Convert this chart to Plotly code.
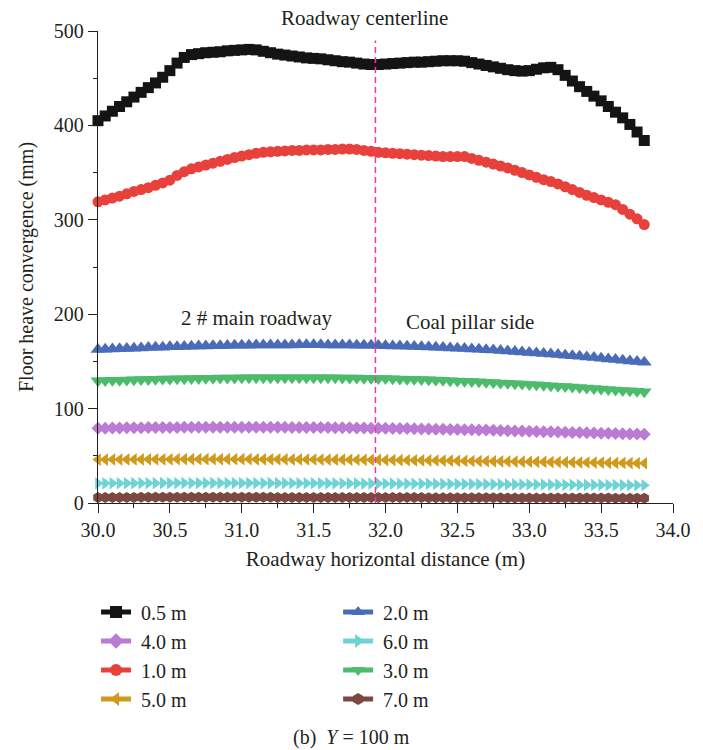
import plotly.graph_objects as go

# x grid (m): samples every 0.05 m from 30.00 to 33.80
x_dist = [round(30 + 0.05 * i, 2) for i in range(77)]

d_05 = [405, 410, 415, 420, 425, 430, 435, 440, 445, 451,
        458, 466, 472, 475, 476, 477, 477.5, 478, 479, 479.5,
        480, 480.5, 480, 478.5, 477, 475.5, 474.5, 473.5, 472.5, 471.5,
        471, 470.5, 469.5, 468.5, 467.5, 467, 466, 465, 464.5, 464.5,
        465, 465.5, 466, 466.5, 467, 467, 467.5, 468, 468.5, 468.5,
        468.5, 468, 466.5, 465, 463.5, 462, 460.5, 459, 458, 457.5,
        458, 459.5, 461, 461.5, 459, 453, 447, 441, 436, 431,
        426, 420, 414, 408, 401, 393, 384]

d_10 = [319, 321, 323, 325, 327.5, 330, 332, 334, 336.5, 339,
        342, 347, 351, 354, 356, 358, 360, 362, 364, 366,
        367.5, 369, 370.5, 371.5, 372, 372.5, 373, 373.5, 373.5, 374,
        374, 374, 374.5, 374.5, 375, 375, 374.5, 373.5, 372.5, 371.5,
        371, 370.5, 370, 369.5, 369, 368.5, 368, 367.5, 367, 367,
        367, 367, 365, 363, 361, 359, 357, 355, 352.5, 350,
        347.5, 345, 342.5, 340.5, 338, 335, 332, 329, 326, 323.5,
        321, 318.5, 316, 311, 306, 301, 295]

d_20 = [162.5, 162.8, 163.1, 163.4, 163.7, 164.0, 164.3, 164.6, 164.9, 165.1,
        165.4, 165.6, 165.8, 166.0, 166.2, 166.4, 166.6, 166.7, 166.9, 167.0,
        167.1, 167.2, 167.3, 167.4, 167.4, 167.5, 167.5, 167.5, 167.6, 167.6,
        167.6, 167.6, 167.5, 167.5, 167.4, 167.3, 167.2, 167.1, 167.0, 166.8,
        166.6, 166.4, 166.2, 166.0, 165.8, 165.5, 165.2, 164.9, 164.6, 164.3,
        164.0, 163.6, 163.2, 162.8, 162.4, 162.0, 161.5, 161.0, 160.5, 160.0,
        159.5, 159.0, 158.4, 157.8, 157.2, 156.6, 156.0, 155.4, 154.7, 154.0,
        153.3, 152.6, 151.9, 151.2, 150.5, 149.8, 149.0]

d_30 = [129.5, 129.7, 129.9, 130.1, 130.3, 130.5, 130.7, 130.9, 131.1, 131.3,
        131.4, 131.6, 131.7, 131.9, 132.0, 132.1, 132.2, 132.3, 132.4, 132.5,
        132.6, 132.6, 132.7, 132.7, 132.8, 132.8, 132.8, 132.8, 132.8, 132.8,
        132.8, 132.7, 132.7, 132.6, 132.5, 132.4, 132.3, 132.2, 132.1, 132.0,
        131.8, 131.6, 131.4, 131.2, 131.0, 130.8, 130.5, 130.2, 129.9, 129.6,
        129.3, 129.0, 128.7, 128.4, 128.0, 127.6, 127.2, 126.8, 126.4, 126.0,
        125.6, 125.2, 124.8, 124.3, 123.8, 123.3, 122.8, 122.3, 121.8, 121.3,
        120.8, 120.3, 119.8, 119.3, 118.8, 118.3, 117.8]

d_40 = [79.2, 79.3, 79.4, 79.5, 79.6, 79.7, 79.8, 79.9, 80.0, 80.0,
        80.1, 80.1, 80.2, 80.2, 80.2, 80.3, 80.3, 80.3, 80.3, 80.3,
        80.3, 80.3, 80.3, 80.3, 80.2, 80.2, 80.2, 80.1, 80.1, 80.0,
        80.0, 79.9, 79.9, 79.8, 79.7, 79.6, 79.5, 79.4, 79.3, 79.2,
        79.1, 79.0, 78.9, 78.8, 78.6, 78.5, 78.4, 78.2, 78.1, 77.9,
        77.8, 77.6, 77.5, 77.3, 77.2, 77.0, 76.8, 76.6, 76.4, 76.2,
        76.0, 75.8, 75.6, 75.4, 75.2, 75.0, 74.8, 74.6, 74.4, 74.2,
        74.0, 73.8, 73.6, 73.4, 73.2, 73.0, 72.8]

d_50 = [46.0, 46.0, 46.1, 46.1, 46.2, 46.2, 46.2, 46.3, 46.3, 46.3,
        46.3, 46.4, 46.4, 46.4, 46.4, 46.4, 46.4, 46.4, 46.4, 46.4,
        46.4, 46.4, 46.3, 46.3, 46.3, 46.3, 46.2, 46.2, 46.2, 46.1,
        46.1, 46.0, 46.0, 45.9, 45.9, 45.8, 45.8, 45.7, 45.7, 45.6,
        45.5, 45.5, 45.4, 45.3, 45.2, 45.2, 45.1, 45.0, 44.9, 44.8,
        44.7, 44.6, 44.5, 44.4, 44.3, 44.2, 44.1, 44.0, 43.9, 43.8,
        43.7, 43.6, 43.5, 43.4, 43.3, 43.2, 43.1, 43.0, 42.9, 42.8,
        42.7, 42.6, 42.5, 42.4, 42.3, 42.2, 42.1]

d_60 = [20.8, 20.8, 20.9, 20.9, 20.9, 21.0, 21.0, 21.0, 21.0, 21.1,
        21.1, 21.1, 21.1, 21.1, 21.1, 21.1, 21.1, 21.1, 21.1, 21.1,
        21.1, 21.1, 21.0, 21.0, 21.0, 21.0, 21.0, 20.9, 20.9, 20.9,
        20.9, 20.8, 20.8, 20.8, 20.7, 20.7, 20.7, 20.6, 20.6, 20.6,
        20.5, 20.5, 20.4, 20.4, 20.4, 20.3, 20.3, 20.2, 20.2, 20.1,
        20.1, 20.0, 20.0, 19.9, 19.9, 19.8, 19.8, 19.7, 19.7, 19.6,
        19.6, 19.5, 19.5, 19.4, 19.4, 19.3, 19.3, 19.2, 19.2, 19.1,
        19.1, 19.0, 19.0, 18.9, 18.9, 18.8, 18.8]

d_70 = [5.8, 5.8, 5.9, 5.9, 5.9, 5.9, 6.0, 6.0, 6.0, 6.0,
        6.0, 6.0, 6.0, 6.0, 6.0, 6.0, 6.0, 6.0, 6.0, 6.0,
        6.0, 6.0, 6.0, 6.0, 6.0, 5.9, 5.9, 5.9, 5.9, 5.9,
        5.9, 5.9, 5.9, 5.8, 5.8, 5.8, 5.8, 5.8, 5.8, 5.8,
        5.7, 5.7, 5.7, 5.7, 5.7, 5.7, 5.6, 5.6, 5.6, 5.6,
        5.6, 5.6, 5.5, 5.5, 5.5, 5.5, 5.5, 5.4, 5.4, 5.4,
        5.4, 5.4, 5.3, 5.3, 5.3, 5.3, 5.3, 5.2, 5.2, 5.2,
        5.2, 5.2, 5.1, 5.1, 5.1, 5.1, 5.1]

series_names = ["0.5 m", "4.0 m", "1.0 m", "5.0 m", "2.0 m", "6.0 m", "3.0 m", "7.0 m"]
series_data = [d_05, d_40, d_10, d_50, d_20, d_60, d_30, d_70]
series_colors = ["#141414", "#bb7bd5", "#e8413c", "#d09a1a", "#4a6cb8", "#6dd3d6", "#4cbb6b", "#7b4842"]
series_symbols = ["square", "diamond", "circle", "triangle-left", "triangle-up", "triangle-right", "triangle-down", "hexagon"]
series_sizes = [11, 10, 11, 11, 13, 11, 13, 11]
series_legend = ["legend", "legend", "legend", "legend", "legend2", "legend2", "legend2", "legend2"]

centerline_x = 31.93
centerline_top = 490

FONT = "Liberation Serif"
TXT = "#231f20"

fig = go.Figure()
draw_order = [7, 5, 3, 1, 6, 4, 2, 0]
for i in range(8):
    assert len(series_data[i]) == len(x_dist)
for i in draw_order:
    fig.add_trace(go.Scatter(
        x=x_dist, y=series_data[i], name="\u00a0" + series_names[i], mode="lines+markers",
        line=dict(color=series_colors[i], width=1.5),
        marker=dict(symbol=series_symbols[i], size=series_sizes[i], color=series_colors[i],
                    line=dict(width=0)),
        legend=series_legend[i], legendrank=i + 1, cliponaxis=False,
    ))

fig.add_shape(type="line", x0=centerline_x, x1=centerline_x, y0=0, y1=centerline_top,
              xref="x", yref="y", line=dict(color="#f0369a", width=1.5, dash="6px,4px"))

ann_font = dict(family=FONT, size=21, color=TXT)
fig.add_annotation(x=31.856, y=1.0275, xref="x", yref="paper", text="Roadway centerline",
                   showarrow=False, font=ann_font, yanchor="middle")
fig.add_annotation(x=31.108, y=196, xref="x", yref="y", text="2 # main roadway",
                   showarrow=False, font=ann_font)
fig.add_annotation(x=32.588, y=192, xref="x", yref="y", text="Coal pillar side",
                   showarrow=False, font=ann_font)
fig.add_annotation(x=0.4416, y=-0.496, xref="paper", yref="paper", text="(b)  <i>Y</i> = 100 m",
                   showarrow=False, font=dict(family=FONT, size=20, color=TXT), yanchor="middle")

axis_common = dict(showline=True, linecolor=TXT, linewidth=1.3, ticks="outside", ticklen=9,
                   tickwidth=1.3, tickcolor=TXT, showgrid=False, zeroline=False,
                   tickfont=dict(family=FONT, size=20, color=TXT))

fig.update_xaxes(range=[30, 34], dtick=0.5, tick0=30, tickformat=".1f",
                 minor=dict(ticks="outside", ticklen=4, dtick=0.25, tick0=30, tickwidth=1.3, tickcolor=TXT),
                 title=dict(text="Roadway horizontal distance (m)", font=dict(family=FONT, size=21, color=TXT), standoff=11),
                 **axis_common)
fig.update_yaxes(range=[0, 500], dtick=100, tick0=0,
                 minor=dict(ticks="outside", ticklen=4, dtick=50, tick0=0, tickwidth=1.3, tickcolor=TXT),
                 title=dict(text="Floor heave convergence (mm)", font=dict(family=FONT, size=20, color=TXT), standoff=14),
                 **axis_common)

leg_common = dict(orientation="v", xanchor="left", yanchor="top", bgcolor="rgba(0,0,0,0)",
                  font=dict(family=FONT, size=20, color=TXT), itemsizing="constant", traceorder="normal")
fig.update_layout(
    width=703, height=750, autosize=False,
    margin=dict(l=98, r=23, t=31, b=247),
    plot_bgcolor="white", paper_bgcolor="white",
    font=dict(family=FONT, size=20, color=TXT),
    legend=dict(x=-0.0034, y=-0.1897, **leg_common),
    legend2=dict(x=0.4176, y=-0.1897, **leg_common),
    showlegend=True,
)

fig.write_html("out.html")
